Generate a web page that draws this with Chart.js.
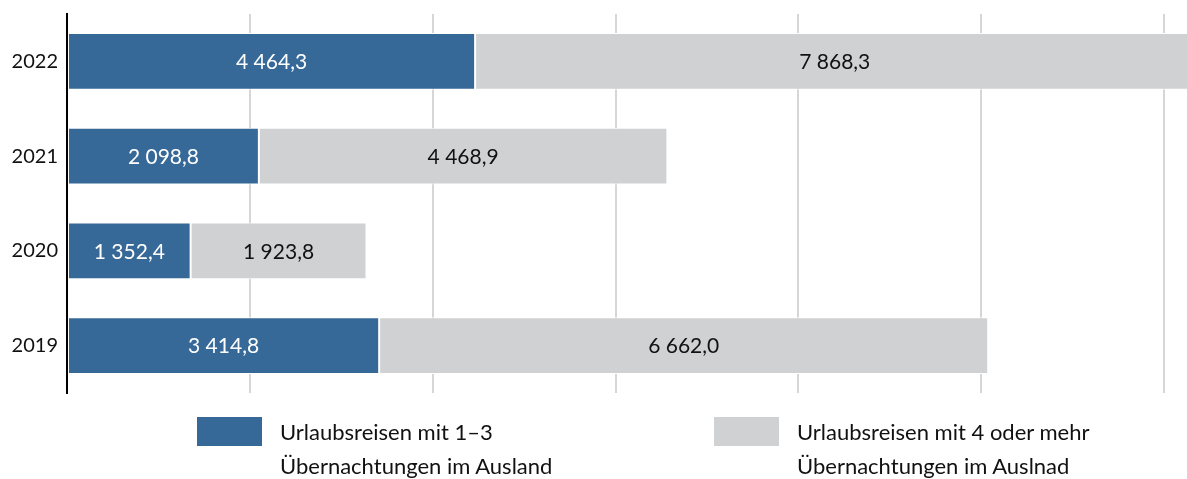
<!DOCTYPE html>
<html>
<head>
<meta charset="utf-8">
<script src="https://cdn.jsdelivr.net/npm/chart.js@4/dist/chart.umd.min.js"></script>
<style>
  body { margin: 0; background: #fff; }
  #wrap { position: relative; width: 1187px; height: 479px; }
  .leg { position: absolute; top: 417px; font-family: Lato, "Open Sans", sans-serif; font-size: 22px; line-height: 34px; color: #111; }
  .leg .box { position: absolute; left: 0; top: 0; width: 65px; height: 29px; }
  .leg .txt { position: absolute; left: 83px; top: -2px; white-space: nowrap; }
</style>
</head>
<body>
<div id="wrap">
  <canvas id="myChart" width="1187" height="479"></canvas>
  <div class="leg" style="left:197px"><div class="box" style="background:#366997"></div><div class="txt" id="leg1"></div></div>
  <div class="leg" style="left:714px"><div class="box" style="background:#d0d1d3"></div><div class="txt" id="leg2"></div></div>
</div>
<script>
var years = ["2022", "2021", "2020", "2019"];
var shortTrips = [4464.3, 2098.8, 1352.4, 3414.8];
var longTrips = [7868.3, 4468.9, 1923.8, 6662.0];
var seriesNames = [
  ["Urlaubsreisen mit 1–3", "Übernachtungen im Ausland"],
  ["Urlaubsreisen mit 4 oder mehr", "Übernachtungen im Auslnad"]
];
var xTicks = [0, 2000, 4000, 6000, 8000, 10000, 12000];

document.getElementById("leg1").innerHTML = seriesNames[0].join("<br>");
document.getElementById("leg2").innerHTML = seriesNames[1].join("<br>");

var fmt = function(v){
  var parts = v.toFixed(1).split(".");
  var intPart = parts[0].replace(/\B(?=(\d{3})+(?!\d))/g, " ");
  return intPart + "," + parts[1];
}

// draws the value in the middle of every bar
var barLabels = {
  id: "barLabels",
  afterDatasetsDraw: function(chart){
    var c = chart.ctx;
    c.save();
    c.font = "21px Lato, 'Open Sans', sans-serif";
    c.textAlign = "center";
    c.textBaseline = "middle";
    chart.data.datasets.forEach(function(ds, i){
      var meta = chart.getDatasetMeta(i);
      meta.data.forEach(function(bar, j){
        var p = bar.getProps(["x", "base", "y"], true);
        c.fillStyle = i === 0 ? "#ffffff" : "#111111";
        c.fillText(fmt(ds.data[j]), (p.x + p.base) / 2, p.y + 1);
      });
    });
    c.restore();
  }
}

var ctx = document.getElementById("myChart");
var chart = new Chart(ctx, {
  type: "bar",
  data: {
    labels: years,
    datasets: [{
      label: seriesNames[0].join(" "),
      data: shortTrips,
      backgroundColor: "#366997",
      borderColor: "#ffffff",
      borderWidth: 1,
      borderSkipped: false,
      clip: false
    },
    {
      label: seriesNames[1].join(" "),
      data: longTrips,
      backgroundColor: "#d0d1d3",
      borderColor: "#ffffff",
      borderWidth: 1,
      borderSkipped: false,
      clip: false
    }]
  },
  options: {
    responsive: false,
    animation: false,
    indexAxis: "y",
    categoryPercentage: 1,
    barPercentage: 0.6,
    layout: { padding: { top: 14, bottom: 86, right: 23, left: 0 } },
    plugins: {
      legend: { display: false },
      tooltip: { enabled: false }
    },
    scales: {
      x: {
        stacked: true,
        min: 0,
        max: 12000,
        afterBuildTicks: function(scale){
          scale.ticks = xTicks.map(function(v){ return { value: v }; });
        },
        ticks: { display: false },
        border: { display: false },
        grid: { color: "#d6d6d6", lineWidth: 2, drawTicks: false },
        afterFit: function(scale){ scale.height = 0; }
      },
      y: {
        stacked: true,
        ticks: {
          color: "#111",
          font: { family: "Lato, 'Open Sans', sans-serif", size: 20 },
          padding: 9
        },
        grid: { display: false, drawTicks: false },
        border: { display: true, color: "#000", width: 2 },
        afterFit: function(scale){
          scale.width = 67;
          scale.paddingTop = 0;
          scale.paddingBottom = 0;
        }
      }
    }
  },
  plugins: [barLabels]
});
</script>
</body>
</html>
